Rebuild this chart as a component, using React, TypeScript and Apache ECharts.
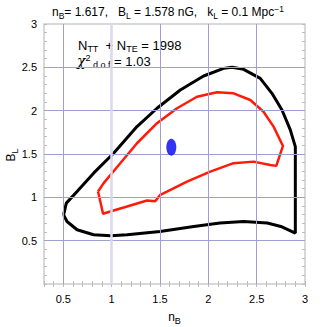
import React, { useEffect, useRef } from "react";
import * as echarts from "echarts";

const outerContour: [number, number][] = [
  [0.503, 0.798], [0.531, 0.933], [0.642, 1.067], [0.813, 1.279], [1.02, 1.509],
  [1.262, 1.816], [1.469, 2.028], [1.71, 2.238], [1.951, 2.4], [2.158, 2.488],
  [2.245, 2.5], [2.365, 2.477], [2.537, 2.373], [2.658, 2.2], [2.762, 2.008],
  [2.848, 1.778], [2.9, 1.585], [2.9, 0.588], [2.75, 0.664], [2.61, 0.703],
  [2.365, 0.721], [2.12, 0.703], [1.85, 0.664], [1.5, 0.606], [1.16, 0.568],
  [0.99, 0.556], [0.813, 0.568], [0.642, 0.626], [0.538, 0.721], [0.503, 0.798],
];

const innerContour: [number, number][] = [
  [0.859, 1.067], [0.917, 1.164], [1.089, 1.394], [1.262, 1.624], [1.469, 1.855],
  [1.676, 2.028], [1.883, 2.161], [2.089, 2.212], [2.261, 2.2], [2.434, 2.123],
  [2.571, 1.988], [2.675, 1.816], [2.772, 1.593], [2.703, 1.363], [2.641, 1.374],
  [2.468, 1.412], [2.261, 1.394], [2.02, 1.297], [1.779, 1.182], [1.572, 1.067],
  [1.503, 1.029], [1.451, 0.956], [1.366, 0.963], [1.159, 0.894], [1.02, 0.848],
  [0.911, 0.81], [0.859, 1.067],
];

const bestFit: [number, number][] = [[1.617, 1.578]];

const gridX = [0.5, 1.5, 2, 2.5];
const gridXSpecial = [1];
const gridY = [0.5, 1, 1.5, 2, 2.5];

const FONT = "Liberation Sans, Arial, Helvetica, sans-serif";

const isHalf = (v: number) => Math.abs(v * 2 - Math.round(v * 2)) < 1e-6;
const fmt = (v: number) => {
  if (!isHalf(v)) return "";
  const r = Math.round(v * 2) / 2;
  if (r === 0) return "";
  return String(r);
};

export default function App() {
  const ref = useRef<HTMLDivElement>(null);
  useEffect(() => {
    if (!ref.current) return;
    const chart = echarts.init(ref.current, undefined, { renderer: "svg" });
    const tickStyle = { show: true, inside: true, length: 3, lineStyle: { color: "#bbbbbb" } };
    const base = { fontFamily: FONT, color: "#000", fontWeight: "normal" as const, lineHeight: 16 };
    const rich = {
      m: { ...base, fontSize: 12, verticalAlign: "middle" as const },
      s: { ...base, fontSize: 9, verticalAlign: "bottom" as const },
      u: { ...base, fontSize: 9, verticalAlign: "top" as const },
      g: { ...base, fontSize: 14, fontFamily: "DejaVu Serif, serif", fontStyle: "italic" as const, verticalAlign: "middle" as const },
    };
    const richBig = { ...rich, m: { ...rich.m, fontSize: 13 } };
    const richTitle = {
      ...rich,
      m: { ...rich.m, fontSize: 12 },
      s: { ...rich.s, fontSize: 8.5 },
      u: { ...rich.u, fontSize: 8.5 },
    };
    chart.setOption({
      animation: false,
      grid: {
        left: 44, right: 22, top: 24, bottom: 43,
        show: true, borderColor: "#cccccc", borderWidth: 1.5,
        containLabel: false, outerBoundsMode: "none",
      },
      graphic: [
        {
          type: "text",
          x: 52,
          y: 4,
          style: {
            text: "{m|n}{s|B}{m|= 1.617,   B}{s|L}{m| = 1.578 nG,   k}{s|L}{m| = 0.1 Mpc}{u|−1}",
            rich: richTitle,
          },
        },
        {
          type: "text",
          x: 78,
          y: 37,
          style: {
            text: "{m|N}{s|TT}{m|  + N}{s|TE}{m| = 1998}",
            rich: richBig,
          },
        },
        {
          type: "text",
          x: 77,
          y: 53,
          style: {
            text: "{g|χ}{u|2}{s| d o f}{m| = 1.03}",
            rich: richBig,
          },
        },
        {
          type: "text",
          x: 11,
          y: 155,
          rotation: Math.PI / 2,
          style: {
            text: "{m|B}{s|L}",
            rich,
            align: "center",
            verticalAlign: "middle",
          },
        },
      ],
      xAxis: [
        {
          type: "value",
          min: 0.3,
          max: 3,
          interval: 0.1,
          name: "{m|n}{s|B}",
          nameLocation: "middle",
          nameGap: 25,
          nameTextStyle: { rich },
          axisLine: { show: false },
          axisTick: tickStyle,
          splitLine: { show: false },
          axisLabel: { formatter: fmt, fontSize: 11, fontFamily: FONT, color: "#000", margin: 9 },
        },
        {
          type: "value",
          position: "top",
          min: 0.3,
          max: 3,
          interval: 0.1,
          axisLine: { show: false },
          axisTick: tickStyle,
          splitLine: { show: false },
          axisLabel: { show: false },
        },
      ],
      yAxis: [
        {
          type: "value",
          min: 0,
          max: 3,
          interval: 0.1,
          axisLine: { show: false },
          axisTick: tickStyle,
          splitLine: { show: false },
          axisLabel: { formatter: fmt, fontSize: 11, fontFamily: FONT, color: "#000", margin: 7 },
        },
        {
          type: "value",
          position: "right",
          min: 0,
          max: 3,
          interval: 0.1,
          axisLine: { show: false },
          axisTick: tickStyle,
          splitLine: { show: false },
          axisLabel: { show: false },
        },
      ],
      series: [
        {
          type: "line",
          data: [],
          silent: true,
          markLine: {
            silent: true,
            symbol: "none",
            label: { show: false },
            lineStyle: { color: "#a0a0d0", width: 1, type: "solid" },
            data: [
              ...gridX.map((v) => ({ xAxis: v })),
              ...gridY.map((v) => ({ yAxis: v })),
              ...gridXSpecial.map((v) => ({ xAxis: v, lineStyle: { color: "#d8d8ee", width: 2.5 } })),
            ],
          },
        },
        {
          type: "line",
          data: outerContour,
          showSymbol: false,
          lineStyle: { color: "#000", width: 3 },
          z: 3,
        },
        {
          type: "line",
          data: innerContour,
          showSymbol: false,
          lineStyle: { color: "#ff1a0a", width: 2.5 },
          z: 4,
        },
        {
          type: "scatter",
          data: bestFit,
          symbol: "circle",
          symbolSize: [10, 17],
          itemStyle: { color: "#0000ee" },
          z: 5,
        },
      ],
    });
    return () => chart.dispose();
  }, []);
  return <div ref={ref} style={{ width: 327, height: 327, position: "absolute", left: 0, top: 0 }} />;
}
